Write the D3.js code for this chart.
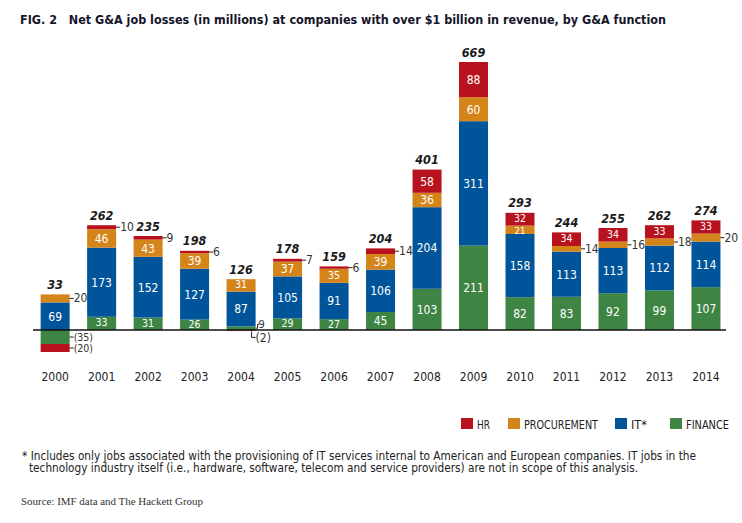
<!DOCTYPE html>
<html>
<head>
<meta charset="utf-8">
<script src="https://cdn.jsdelivr.net/npm/d3@7/dist/d3.min.js"></script>
<style>
  html, body { margin: 0; padding: 0; background: #fff; }
  svg { display: block; }
  text { font-family: "DejaVu Sans Condensed", "Liberation Sans Narrow", "Open Sans", sans-serif; }
</style>
</head>
<body>
<svg id="chart" width="742" height="523"></svg>
<script>
// ---------- data ----------
const years = ["2000","2001","2002","2003","2004","2005","2006","2007","2008","2009","2010","2011","2012","2013","2014"];
const finance     = [-35, 33, 31, 26, 9, 29, 27, 45, 103, 211, 82, 83, 92, 99, 107];
const it          = [69, 173, 152, 127, 87, 105, 91, 106, 204, 311, 158, 113, 113, 112, 114];
const procurement = [20, 46, 43, 39, 31, 37, 35, 39, 36, 60, 21, 14, 16, 18, 20];
const hr          = [-20, 10, 9, 6, -2, 7, 6, 14, 58, 88, 32, 34, 34, 33, 33];
const totals      = [33, 262, 235, 198, 126, 178, 159, 204, 401, 669, 293, 244, 255, 262, 274];

const seriesKeys   = ["finance", "it", "procurement", "hr"];
const seriesNames  = {hr: "HR", procurement: "PROCUREMENT", it: "IT*", finance: "FINANCE"};
const legendOrder  = ["hr", "procurement", "it", "finance"];
const colors = {hr: "#b8121f", procurement: "#d4851a", it: "#00559a", finance: "#3e8442"};

const titleText = "FIG. 2   Net G&A job losses (in millions) at companies with over $1 billion in revenue, by G&A function";
const note1 = "* Includes only jobs associated with the provisioning of IT services internal to American and European companies. IT jobs in the";
const note2 = "technology industry itself (i.e., hardware, software, telecom and service providers) are not in scope of this analysis.";
const sourceText = "Source: IMF data and The Hackett Group";

const table = years.map((y, i) => ({year: y, finance: finance[i], it: it[i], procurement: procurement[i], hr: hr[i], total: totals[i]}));

// ---------- layout ----------
const svg = d3.select("#chart");
const x = d3.scaleBand().domain(years).range([31.8, 729.3]).paddingInner(0.376).paddingOuter(0.19);
const y = d3.scaleLinear().domain([0, 669]).range([330, 62.4]);

const stack = d3.stack().keys(seriesKeys).offset(d3.stackOffsetDiverging);
const stacked = stack(table);

const fmt = v => v < 0 ? "(" + Math.abs(v) + ")" : String(v);

// title
svg.append("text").attr("x", 20).attr("y", 24)
  .attr("font-size", 13).attr("font-weight", "bold").attr("fill", "#15152a")
  .attr("textLength", 646).attr("lengthAdjust", "spacingAndGlyphs")
  .attr("xml:space", "preserve").style("white-space", "pre")
  .text(titleText);

// bars
const layers = svg.append("g").selectAll("g").data(stacked).join("g")
  .attr("fill", d => colors[d.key]);
layers.selectAll("rect").data(d => d.map(p => ({p, key: d.key}))).join("rect")
  .attr("x", d => x(d.p.data.year))
  .attr("width", x.bandwidth())
  .attr("y", d => y(Math.max(d.p[0], d.p[1])))
  .attr("height", d => Math.abs(y(d.p[0]) - y(d.p[1])));

// baseline
svg.append("line").attr("x1", 33).attr("x2", 726).attr("y1", y(0)).attr("y2", y(0))
  .attr("stroke", "#111").attr("stroke-width", 1.5);

// segment labels
const labG = svg.append("g").attr("font-size", 12);
stacked.forEach(layer => {
  layer.forEach(p => {
    const v = p.data[layer.key];
    const yr = p.data.year;
    const cx = x(yr) + x.bandwidth() / 2;
    const cy = (y(p[0]) + y(p[1])) / 2;
    const right = x(yr) + x.bandwidth();
    const segH = Math.abs(y(p[0]) - y(p[1]));
    const fs = segH < 10 ? 9.5 : (segH < 14 ? 10.5 : 12);
    const outside = Math.abs(v) <= 20 || v < 0;
    if (!outside) {
      labG.append("text").attr("x", cx).attr("y", cy + (segH < 10 ? 0.8 : (segH < 14 ? -0.8 : 0))).attr("dy", "0.36em")
        .attr("font-size", fs)
        .attr("text-anchor", "middle").attr("fill", "#fff").text(fmt(v));
    } else if (yr === "2004" && layer.key === "hr") {
      const lx = right - 4;
      labG.append("path").attr("d", `M${lx},${cy + 1}V${cy + 7}H${lx + 4}`)
        .attr("fill", "none").attr("stroke", "#222").attr("stroke-width", 1);
      labG.append("text").attr("x", lx + 4).attr("y", cy + 7).attr("dy", "0.36em")
        .attr("fill", "#333").text(fmt(v));
    } else if (yr === "2004" && layer.key === "finance") {
      labG.append("path").attr("d", `M${right},${cy}H${right + 2}V${cy - 4}H${right + 4}`)
        .attr("fill", "none").attr("stroke", "#222").attr("stroke-width", 1);
      labG.append("text").attr("x", right + 3).attr("y", cy - 4.5).attr("dy", "0.36em")
        .attr("font-size", 11).attr("fill", "#333").text(fmt(v));
    } else {
      labG.append("line").attr("x1", right).attr("x2", right + 4).attr("y1", cy).attr("y2", cy)
        .attr("stroke", "#222").attr("stroke-width", 1);
      labG.append("text").attr("x", right + 4).attr("y", cy).attr("dy", "0.34em")
        .attr("font-size", yr === "2000" && v < 0 ? 10.5 : 12)
        .attr("fill", "#333").text(fmt(v));
    }
  });
});

// total labels
const topOf = d => {
  const pos = seriesKeys.reduce((s, k) => s + Math.max(0, d[k]), 0);
  return y(pos);
};
svg.append("g").selectAll("text").data(table).join("text")
  .attr("x", d => x(d.year) + x.bandwidth() / 2)
  .attr("y", d => topOf(d) - 5.5)
  .attr("text-anchor", "middle").attr("font-size", 12.5)
  .attr("font-weight", "bold").attr("font-style", "italic").attr("fill", "#1a1a1a")
  .text(d => d.total);

// x axis labels
const xAxis = d3.axisBottom(x).tickSize(0).tickPadding(0);
const ax = svg.append("g").attr("transform", `translate(0,${y(0) + 47})`).call(xAxis);
ax.select(".domain").remove();
ax.selectAll("text").attr("font-size", 12).attr("fill", "#222")
  .style("font-family", "\"DejaVu Sans Condensed\", \"Liberation Sans Narrow\", sans-serif")
  .attr("dy", "0.36em").attr("y", 0);

// legend
const legX = {hr: 461, procurement: 508, it: 615, finance: 670};
const legW = {hr: 13, procurement: 74, it: 16, finance: 43};
const legG = svg.append("g");
legendOrder.forEach(k => {
  legG.append("rect").attr("x", legX[k]).attr("y", 418).attr("width", 12).attr("height", 11).attr("fill", colors[k]);
  legG.append("text").attr("x", legX[k] + 16).attr("y", 428.5).attr("font-size", 11.5).attr("fill", "#222")
    .attr("textLength", legW[k]).attr("lengthAdjust", "spacingAndGlyphs")
    .text(seriesNames[k]);
});

// footnotes
svg.append("text").attr("x", 22).attr("y", 459.5).attr("font-size", 12).attr("fill", "#222")
  .attr("textLength", 674).attr("lengthAdjust", "spacingAndGlyphs").text(note1);
svg.append("text").attr("x", 29).attr("y", 472).attr("font-size", 12).attr("fill", "#222")
  .attr("textLength", 609).attr("lengthAdjust", "spacingAndGlyphs").text(note2);
svg.append("text").attr("x", 21).attr("y", 505).attr("font-size", 10)
  .style("font-family", "\"Liberation Serif\", \"DejaVu Serif\", serif").attr("fill", "#333")
  .attr("textLength", 182).attr("lengthAdjust", "spacingAndGlyphs").text(sourceText);
</script>
</body>
</html>
